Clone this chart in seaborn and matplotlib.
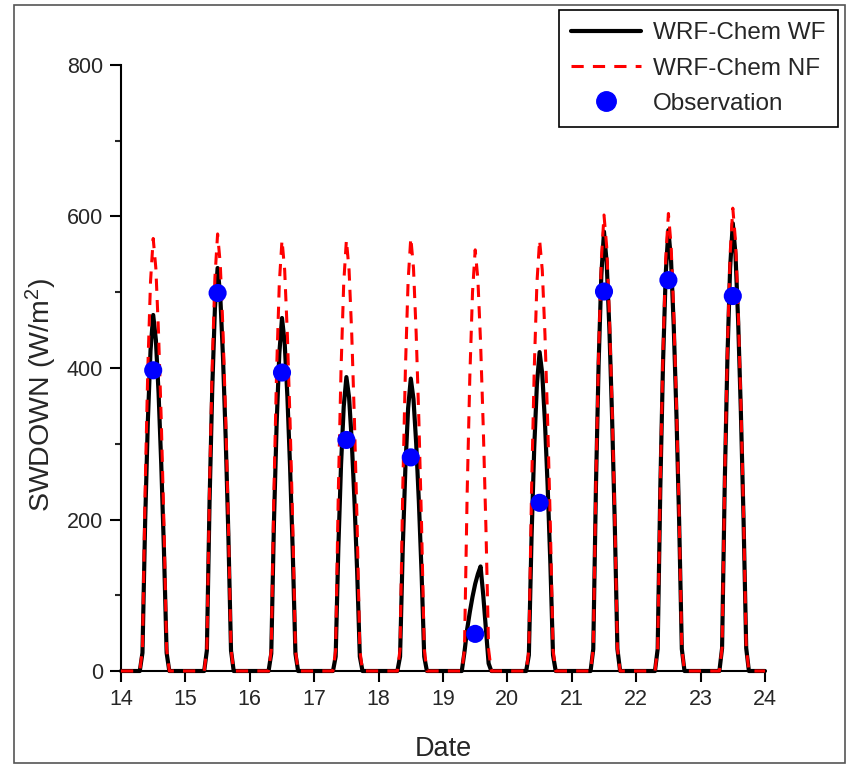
import matplotlib
matplotlib.use("Agg")
import matplotlib.pyplot as plt
import seaborn as sns
import pandas as pd
from matplotlib.patches import Rectangle
from matplotlib.lines import Line2D

# ---------------- data ----------------
days = [14, 15, 16, 17, 18, 19, 20, 21, 22, 23]
hours = [7, 8, 9, 10, 11, 12, 13, 14, 15, 16, 17, 18]

wf_hourly = [
    [0, 24, 197, 329, 423, 470, 437, 367, 273, 160, 24, 0],
    [0, 27, 223, 372, 479, 532, 495, 415, 309, 181, 27, 0],
    [0, 23, 196, 326, 419, 466, 433, 363, 270, 158, 23, 0],
    [0, 19, 163, 272, 349, 388, 361, 303, 225, 132, 19, 0],
    [0, 19, 162, 270, 347, 386, 359, 301, 224, 131, 19, 0],
    [0, 25, 55, 78, 98, 115, 128, 138, 100, 55, 10, 0],
    [0, 21, 177, 295, 379, 421, 392, 328, 244, 143, 21, 0],
    [0, 29, 244, 406, 522, 580, 539, 452, 336, 197, 29, 0],
    [0, 29, 244, 407, 524, 582, 541, 454, 338, 198, 29, 0],
    [0, 30, 248, 414, 532, 591, 550, 461, 343, 201, 30, 0],
]
nf_hourly = [
    [0, 29, 240, 400, 514, 571, 531, 445, 331, 194, 29, 0],
    [0, 29, 242, 404, 519, 577, 537, 450, 335, 196, 29, 0],
    [0, 28, 239, 398, 512, 569, 529, 444, 330, 193, 28, 0],
    [0, 28, 239, 398, 512, 569, 529, 444, 330, 193, 28, 0],
    [0, 29, 240, 400, 515, 572, 532, 446, 332, 194, 29, 0],
    [0, 28, 234, 389, 500, 556, 517, 434, 322, 189, 28, 0],
    [0, 28, 239, 398, 512, 569, 529, 444, 330, 193, 28, 0],
    [0, 30, 253, 421, 542, 602, 560, 470, 349, 205, 30, 0],
    [0, 30, 254, 423, 544, 604, 562, 471, 350, 205, 30, 0],
    [0, 31, 257, 428, 550, 611, 568, 477, 354, 208, 31, 0],
]
obs_time = [14.5, 15.5, 16.5, 17.5, 18.5, 19.5, 20.5, 21.5, 22.5, 23.5]
obs_values = [397, 499, 394, 305, 282, 49, 222, 501, 516, 495]

x_ticks = [14, 15, 16, 17, 18, 19, 20, 21, 22, 23, 24]
y_ticks = [0, 200, 400, 600, 800]
y_minor = [100, 300, 500, 700]
labels = ["WRF-Chem WF", "WRF-Chem NF", "Observation"]

# ---------------- build tables ----------------
t = [14.0] + [d + h / 24 for d in days for h in hours] + [24.0]
wf = [0] + [v for row in wf_hourly for v in row] + [0]
nf = [0] + [v for row in nf_hourly for v in row] + [0]
df = pd.DataFrame({"time": t, "WF": wf, "NF": nf})
obs = pd.DataFrame({"time": obs_time, "value": obs_values})

# ---------------- style ----------------
sns.set_style("ticks")
plt.rcParams["font.family"] = ["Liberation Sans", "DejaVu Sans"]
plt.rcParams["mathtext.default"] = "regular"

fig = plt.figure(figsize=(8.54, 7.66), dpi=100)
ax = fig.add_axes([121 / 854, 1 - 671 / 766, (765 - 121) / 854, (671 - 65) / 766])

sns.lineplot(data=df, x="time", y="WF", ax=ax, color="black", linewidth=3.0,
             sort=False, estimator=None, zorder=3)
sns.lineplot(data=df, x="time", y="NF", ax=ax, color="#ff0000", linewidth=2.2,
             sort=False, estimator=None, zorder=4)
ax.lines[1].set_dashes((4.0, 3.0))
for ln in ax.lines:
    ln.set_clip_on(False)
sns.scatterplot(data=obs, x="time", y="value", ax=ax, color="#0000ff", s=170,
                edgecolor="none", zorder=5, clip_on=False)

ax.set_xlim(14, 24)
ax.set_ylim(0, 800)
ax.set_xticks(x_ticks)
ax.set_yticks(y_ticks)
ax.set_yticks(y_minor, minor=True)
ax.tick_params(axis="both", which="major", direction="out", length=8, width=1.5,
               labelsize=15.5, color="black", pad=5)
ax.tick_params(axis="y", which="minor", direction="out", length=4, width=1.5)
for s in ["top", "right"]:
    ax.spines[s].set_visible(False)
for s in ["left", "bottom"]:
    ax.spines[s].set_linewidth(1.5)
    ax.spines[s].set_color("black")

ax.set_xlabel("Date", fontsize=19.5, labelpad=19)
ax.set_ylabel("SWDOWN (W/m$^2$)", fontsize=20.5)
ax.yaxis.set_label_coords(-0.096, 0.455)

handles = [
    Line2D([], [], color="black", linewidth=3.0),
    Line2D([], [], color="#ff0000", linewidth=2.2, dashes=(4.0, 3.0)),
    Line2D([], [], color="#0000ff", marker="o", linestyle="none", markersize=14),
]
leg = fig.legend(handles, labels, loc="upper right",
                 bbox_to_anchor=(838 / 854, 1 - 10 / 766), bbox_transform=fig.transFigure,
                 borderaxespad=0, fontsize=17.5, frameon=True, fancybox=False,
                 edgecolor="black", framealpha=1, handlelength=2.9,
                 handletextpad=0.5, labelspacing=0.55, borderpad=0.5)
leg.get_frame().set_linewidth(1.2)

fig.patches.append(Rectangle((14 / 854, 1 - 763 / 766), (845 - 14) / 854, (763 - 5) / 766,
                             transform=fig.transFigure, fill=False,
                             edgecolor="#555555", linewidth=1.2))

fig.savefig("out.png", dpi=100)
